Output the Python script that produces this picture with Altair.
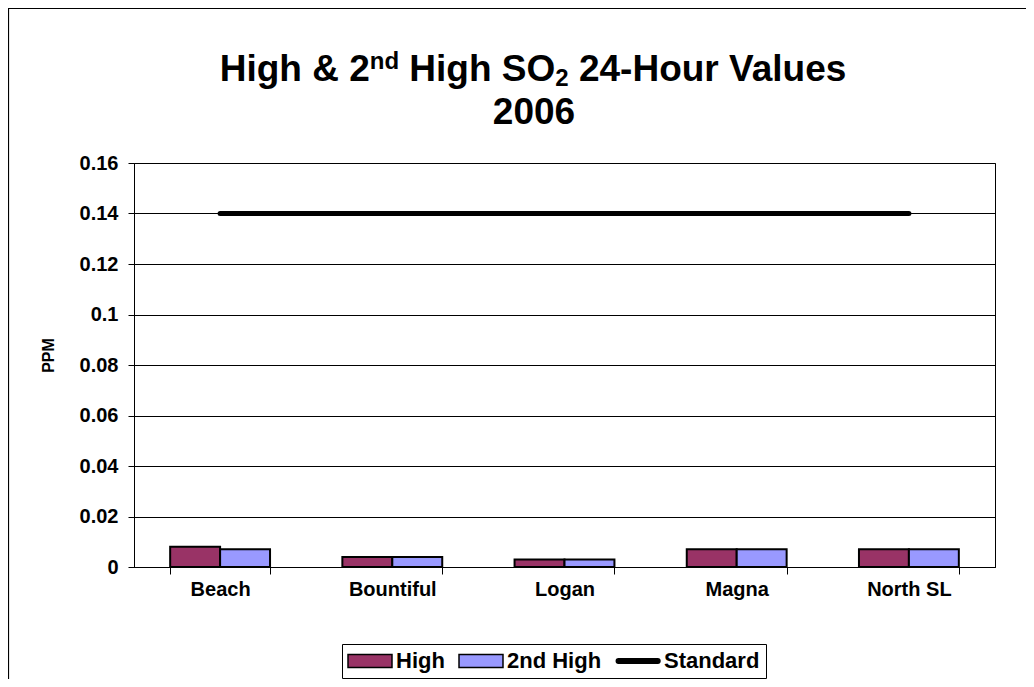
import altair as alt
import pandas as pd

# ---------------- data ----------------
sites = ["Beach", "Bountiful", "Logan", "Magna", "North SL"]
high = [0.008, 0.004, 0.003, 0.007, 0.007]
second_high = [0.007, 0.004, 0.003, 0.007, 0.007]
standard = [0.14, 0.14, 0.14, 0.14, 0.14]
series = ["High", "2nd High", "Standard"]
colors = ["#993366", "#9999FF", "#000000"]
y_ticks = [0, 0.02, 0.04, 0.06, 0.08, 0.1, 0.12, 0.14, 0.16]

bars_df = pd.DataFrame({
    "site": sites * 2,
    "series": ["High"] * len(sites) + ["2nd High"] * len(sites),
    "ppm": high + second_high,
})
std_df = pd.DataFrame({"site": sites, "ppm": standard})
legend_df = pd.DataFrame({"series": series})
one = pd.DataFrame({"k": [0]})

FONT = "Liberation Sans"
PLOT_W, PLOT_H = 861, 404
PAD_L, PAD_T = 126, 155
SVG_W, SVG_H = 1018, 671

# ---------------- scales ----------------
x_enc = alt.X(
    "site:N", sort=sites,
    scale=alt.Scale(domain=sites, paddingInner=0.42, paddingOuter=0.21),
    axis=alt.Axis(title=None, labelAngle=0, tickBand="extent", grid=False,
                  tickSize=7, labelPadding=5, labelFontSize=20),
)
y_enc = alt.Y(
    "ppm:Q",
    scale=alt.Scale(domain=[0, 0.16], nice=False, zero=True),
    axis=alt.Axis(values=y_ticks, format="~g", title="PPM", grid=True,
                  tickSize=6, labelPadding=10, labelFontSize=20,
                  titleFontSize=16, titleAngle=270, titleX=-78, titleY=192,
                  titleBaseline="bottom", titleAlign="center"),
)

# legend symbols: symbolSize 196 -> unit = 7px; swatch 44px wide
rect_path = "M-1.57,-0.93H4.714V0.93H-1.57Z"
line_path = "M-1.2,-0.33H4.38A0.33,0.33 0 0 1 4.38,0.33H-1.2A0.33,0.33 0 0 1 -1.2,-0.33Z"
leg = dict(orient="none", legendX=208, legendY=481, direction="horizontal", title=None,
           symbolSize=196, symbolStrokeColor="black", symbolStrokeWidth=1.5, symbolOpacity=1,
           labelFont=FONT, labelFontSize=22, labelFontWeight="bold", labelColor="black",
           labelOffset=26, columnPadding=11, padding=6, strokeColor="black", fillColor="white")

legend_layer = alt.Chart(legend_df).mark_point(filled=True, opacity=1).encode(
    color=alt.Color("series:N", scale=alt.Scale(domain=series, range=colors), legend=alt.Legend(**leg)),
    shape=alt.Shape("series:N", scale=alt.Scale(domain=series, range=[rect_path, rect_path, line_path]),
                    legend=alt.Legend(**leg)),
    stroke=alt.Stroke("series:N", scale=alt.Scale(domain=series, range=["black", "black", "black"]),
                      legend=alt.Legend(**leg)),
).transform_filter("false")

bars = alt.Chart(bars_df).mark_bar(stroke="black", strokeWidth=2).encode(
    x=x_enc,
    y=y_enc,
    xOffset=alt.XOffset("series:N", sort=["High", "2nd High"],
                        scale=alt.Scale(domain=["High", "2nd High"], paddingInner=0, paddingOuter=0)),
    fill=alt.Fill("series:N", scale=alt.Scale(domain=series[:2], range=colors[:2]), legend=None),
)

std_line = alt.Chart(std_df).mark_line(color="black", strokeWidth=5, strokeCap="round").encode(
    x=alt.X("site:N", sort=sites),
    y=alt.Y("ppm:Q"),
)

# ---------------- title (rich text pieces) ----------------
W = {' ': 278, '&': 722, '-': 333, '0': 556, '2': 556, '4': 556, '6': 556, 'H': 722, 'O': 778,
     'S': 667, 'V': 667, 'a': 556, 'd': 611, 'e': 556, 'g': 611, 'h': 611, 'i': 278, 'l': 278,
     'n': 611, 'o': 611, 'r': 389, 's': 556, 'u': 611}


def tw(s, size):
    return sum(W[c] for c in s) / 1000.0 * size


F = 37
FS = round(F * 0.65)
cx = 534 - (8 + PAD_L)          # title centre in plot coordinates
base1 = 81 - (8 + PAD_T)
base2 = 124 - (8 + PAD_T)
pieces = [("High & 2", F, 0), ("nd", FS, -0.33 * F), ("High SO", F, 0), ("2", FS, 0.14 * F),
          ("24-Hour Values", F, 0)]
gaps = [0, 0, tw(" ", F), 0, tw(" ", F)]
total = sum(tw(t, s) for t, s, _ in pieces) + sum(gaps)
x = cx - total / 2
title_layers = []
for (t, s, dy), g in zip(pieces, gaps):
    x += g
    title_layers.append(
        alt.Chart(one).mark_text(text=t, font=FONT, fontSize=s, fontWeight="bold", color="black",
                                 align="left", baseline="alphabetic")
        .encode(x=alt.value(x), y=alt.value(base1 + dy))
    )
    x += tw(t, s)
title_layers.append(
    alt.Chart(one).mark_text(text="2006", font=FONT, fontSize=F, fontWeight="bold", color="black",
                             align="center", baseline="alphabetic")
    .encode(x=alt.value(cx), y=alt.value(base2))
)

border = alt.Chart(one).mark_rect(fillOpacity=0, stroke="black", strokeWidth=1.2).encode(
    x=alt.value(-PAD_L + 0.5), x2=alt.value(3000), y=alt.value(-PAD_T + 0.5), y2=alt.value(3000)
)

chart = alt.layer(legend_layer, bars, std_line, *title_layers, border).properties(
    width=PLOT_W, height=PLOT_H,
    autosize=alt.AutoSizeParams(type="none"),
    padding={"left": PAD_L, "top": PAD_T, "right": SVG_W - PAD_L - PLOT_W, "bottom": SVG_H - PAD_T - PLOT_H},
    background="white",
).configure_view(stroke="black", strokeWidth=1).configure_axis(
    labelFont=FONT, labelFontWeight="bold", labelColor="black",
    titleFont=FONT, titleFontWeight="bold", titleColor="black",
    domainColor="black", tickColor="black", gridColor="black", gridWidth=1, gridOpacity=1,
    domainWidth=1, tickWidth=1,
).configure_legend(symbolStrokeColor="black", symbolStrokeWidth=1.5)

chart.save("out.html", embed_options={"renderer": "svg", "actions": False})
